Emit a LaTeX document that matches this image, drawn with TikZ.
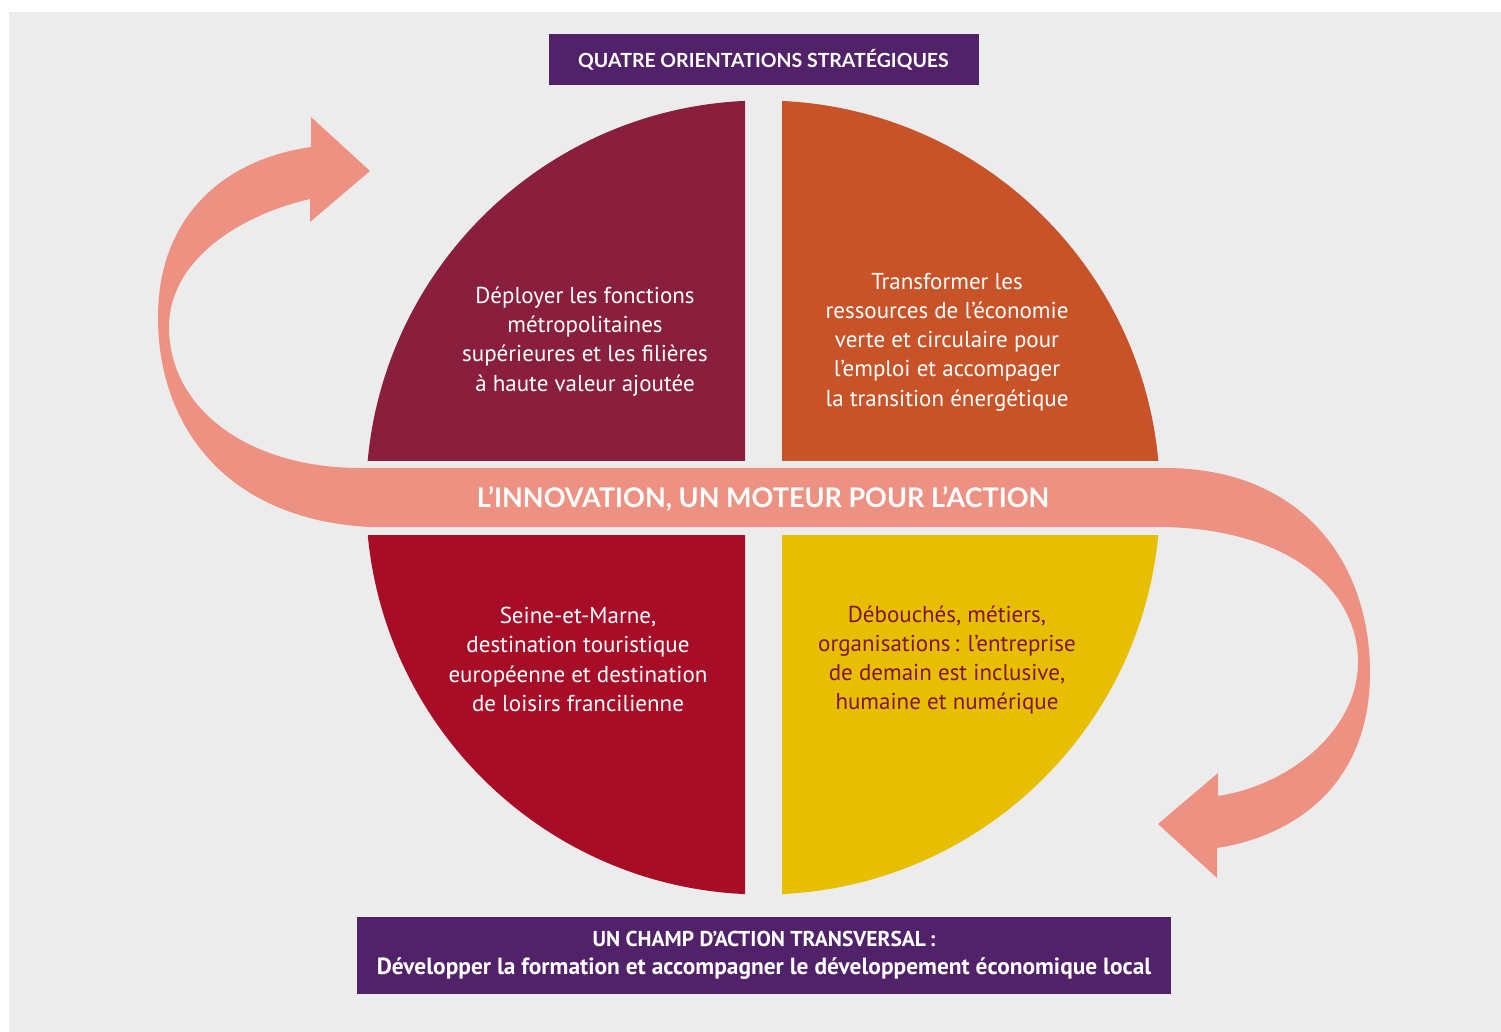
\documentclass[tikz,border=0pt]{standalone}
\usepackage{fontspec}
\setmainfont{PT Sans}
\newfontfamily\headfont{Lato}
\definecolor{fond}{HTML}{ECECEC}
\definecolor{violetbox}{HTML}{51216A}
\definecolor{bordeaux}{HTML}{891E3D}
\definecolor{rouille}{HTML}{C85328}
\definecolor{rouge}{HTML}{A80D28}
\definecolor{jaune}{HTML}{E8BE00}
\definecolor{saumon}{HTML}{ED9183}
\definecolor{brun}{HTML}{7E1634}

\begin{document}
\begin{tikzpicture}[x=1pt,y=-1pt,
    txt/.style={text=white, align=center, font=\fontsize{23}{29.3}\selectfont},
    boite/.style={fill=violetbox, text=white, align=center, inner sep=0pt}]
    \fill[white] (0,0) rectangle (1501,1032);
    \fill[fond] (9,12) rectangle (1501,1032);

    \begin{scope}
        \clip (0,0) rectangle (745,460);
        \fill[bordeaux] (763,497.5) circle (397);
    \end{scope}
    \begin{scope}
        \clip (782,0) rectangle (1501,460);
        \fill[rouille] (763,497.5) circle (397);
    \end{scope}
    \begin{scope}
        \clip (0,535) rectangle (745,1032);
        \fill[rouge] (763,497.5) circle (397);
    \end{scope}
    \begin{scope}
        \clip (782,535) rectangle (1501,1032);
        \fill[jaune] (763,497.5) circle (397);
    \end{scope}

    \fill[saumon] (311,147) .. controls (220,160) and (158,220) .. (158,317)
        .. controls (158,430) and (230,520) .. (370,527)
        -- (1165,527) .. controls (1290,530) and (1358,590) .. (1358,662)
        .. controls (1358,730) and (1290,785) .. (1218,796)
        -- (1218,773) -- (1158,824) -- (1217,878) -- (1217,848)
        .. controls (1300,835) and (1370,780) .. (1370,673)
        .. controls (1370,560) and (1300,468) .. (1165,468)
        -- (360,468) .. controls (250,468) and (169,410) .. (169,327)
        .. controls (169,260) and (240,215) .. (310,199)
        -- (310,222) -- (370,171) -- (311,117) -- cycle;

    \node[boite, minimum width=430, minimum height=51, font=\headfont\bfseries\fontsize{19.5}{22}\selectfont] (titre) at (763.5,59.5) {QUATRE ORIENTATIONS STRATÉGIQUES};
    \node[text=white, font=\headfont\bfseries\fontsize{27}{30}\selectfont] (moteur) at (763,499) {L’INNOVATION, UN MOTEUR POUR L’ACTION};

    \node[txt] (deployer) at (585,341.5) {Déployer les fonctions\\métropolitaines\\supérieures et les filières\\à haute valeur ajoutée};
    \node[txt] (transformer) at (947,342) {Transformer les\\ressources de l’économie\\verte et circulaire pour\\l’emploi et accompager\\la transition énergétique};
    \node[txt] (seine) at (578,659.5) {Seine-et-Marne,\\destination touristique\\européenne et destination\\de loisirs francilienne};
    \node[txt, text=brun] (debouches) at (947,660) {Débouchés, métiers,\\organisations\,: l’entreprise\\de demain est inclusive,\\humaine et numérique};

    \node[boite, minimum width=814, minimum height=77, font=\bfseries\fontsize{23.4}{27.5}\selectfont] (champ) at (764,955.5) {{\fontsize{21.5}{27.5}\selectfont UN CHAMP D’ACTION TRANSVERSAL\,:}\\Développer la formation et accompagner le développement économique local};
\end{tikzpicture}
\end{document}
